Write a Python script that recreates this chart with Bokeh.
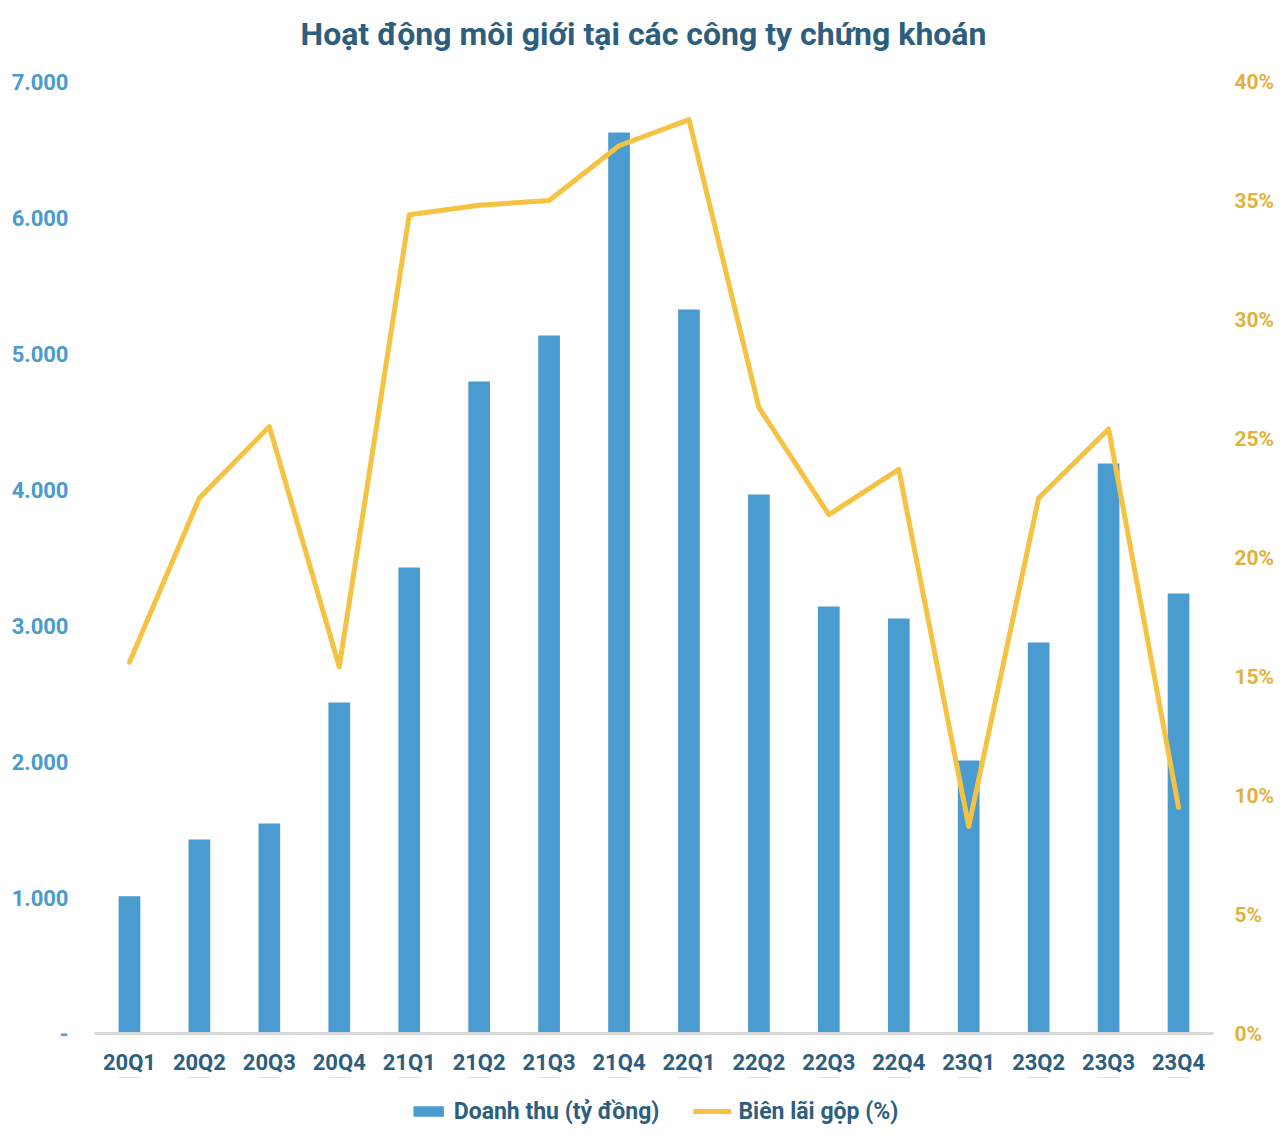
from bokeh.plotting import figure
from bokeh.layouts import column
from bokeh.models import (FactorRange, Range1d, LinearAxis, FixedTicker, Legend, LegendItem, Label)
from bokeh.embed import file_html
from bokeh.resources import INLINE

quarters = ["20Q1", "20Q2", "20Q3", "20Q4", "21Q1", "21Q2", "21Q3", "21Q4",
            "22Q1", "22Q2", "22Q3", "22Q4", "23Q1", "23Q2", "23Q3", "23Q4"]
revenue = [1010, 1426, 1544, 2434, 3426, 4794, 5132, 6625,
           5324, 3963, 3140, 3051, 2007, 2875, 4191, 3235]
margin_pct = [15.6, 22.5, 25.5, 15.4, 34.4, 34.8, 35.0, 37.3,
              38.4, 26.3, 21.8, 23.7, 8.7, 22.5, 25.4, 9.5]
left_ticks = [0, 1000, 2000, 3000, 4000, 5000, 6000, 7000]
left_labels = ["-", "1.000", "2.000", "3.000", "4.000", "5.000", "6.000", "7.000"]
right_ticks = [0, 5, 10, 15, 20, 25, 30, 35, 40]
right_labels = ["0%", "5%", "10%", "15%", "20%", "25%", "30%", "35%", "40%"]

title_text = "Hoạt động môi giới tại các công ty chứng khoán"
bar_name = "Doanh thu (tỷ đồng)"
line_name = "Biên lãi gộp (%)"

BLUE = "#4A9BD0"
GOLD_LINE = "#F5C242"
GOLD_TEXT = "#E2B13C"
DARK = "#2E5E7E"
FONT = "Roboto"

# title strip
pt = figure(width=1286, height=66, output_backend="svg", toolbar_location=None,
            x_axis_type=None, y_axis_type=None, min_border=0,
            outline_line_color=None, title=None)
pt.xgrid.grid_line_color = None
pt.ygrid.grid_line_color = None
pt.add_layout(Label(x=549, y=33, x_units="screen", y_units="screen",
                    text=title_text, text_align="center", text_baseline="middle",
                    text_font=FONT, text_font_style="bold", text_font_size="32px",
                    text_color=DARK))

# main chart
p = figure(x_range=FactorRange(*quarters, range_padding=0),
           y_range=Range1d(0, 7000),
           frame_width=1119, frame_height=952,
           output_backend="svg", toolbar_location=None, title=None,
           min_border_left=94, min_border_right=73, min_border_top=15,
           min_border_bottom=44,
           outline_line_color=None)
p.extra_y_ranges = {"pct": Range1d(0, 40)}

bars = p.vbar(x=quarters, top=revenue, width=0.31, color=BLUE, line_color=None)
line = p.line(x=quarters, y=margin_pct, y_range_name="pct", line_color=GOLD_LINE,
              line_width=5, line_join="round", line_cap="round")

p.xgrid.grid_line_color = None
p.ygrid.grid_line_color = None

# left axis
ya = p.yaxis[0]
ya.ticker = FixedTicker(ticks=left_ticks)
ya.major_label_overrides = {t: l for t, l in zip(left_ticks, left_labels)}
ya.axis_line_color = None
ya.major_tick_line_color = None
ya.minor_tick_line_color = None
ya.major_label_text_font = FONT
ya.major_label_text_font_style = "bold"
ya.major_label_text_font_size = "22px"
ya.major_label_text_color = BLUE
ya.major_label_standoff = 20

# right axis
ra = LinearAxis(y_range_name="pct", ticker=FixedTicker(ticks=right_ticks))
ra.major_label_overrides = {t: l for t, l in zip(right_ticks, right_labels)}
ra.axis_line_color = None
ra.major_tick_line_color = None
ra.minor_tick_line_color = None
ra.major_label_text_font = FONT
ra.major_label_text_font_style = "bold"
ra.major_label_text_font_size = "21px"
ra.major_label_text_color = GOLD_TEXT
ra.major_label_standoff = 15
p.add_layout(ra, "right")

# x axis
xa = p.xaxis[0]
xa.axis_line_color = "#D9D9D9"
xa.axis_line_width = 3
xa.major_tick_line_color = None
xa.minor_tick_line_color = None
xa.major_label_text_font = FONT
xa.major_label_text_font_style = "bold"
xa.major_label_text_font_size = "22px"
xa.major_label_text_color = DARK
xa.major_label_standoff = 10

# legend strip below the chart (same series, drawn outside the visible range)
pl = figure(width=1286, height=67, output_backend="svg", toolbar_location=None,
            x_range=FactorRange(*quarters), y_range=Range1d(-2, -1),
            x_axis_type=None, y_axis_type=None, min_border=0,
            outline_line_color=None, title=None)
pl.xgrid.grid_line_color = None
pl.ygrid.grid_line_color = None
lbar = pl.vbar(x=quarters, top=revenue, width=0.31, color=BLUE, line_color=None)
lline = pl.line(x=quarters, y=margin_pct, line_color=GOLD_LINE, line_width=5,
                line_cap="round")

legend = Legend(items=[LegendItem(label=bar_name, renderers=[lbar]),
                       LegendItem(label=line_name, renderers=[lline])],
                orientation="horizontal", location="center",
                label_text_font=FONT, label_text_font_style="bold",
                label_text_font_size="23px", label_text_color=DARK,
                glyph_width=38, glyph_height=13, label_standoff=7, spacing=34,
                border_line_color=None, background_fill_alpha=0,
                padding=2, margin=0)
pl.add_layout(legend)

layout = column(pt, p, pl, spacing=0)
open("out.html", "w").write(file_html(layout, INLINE))
